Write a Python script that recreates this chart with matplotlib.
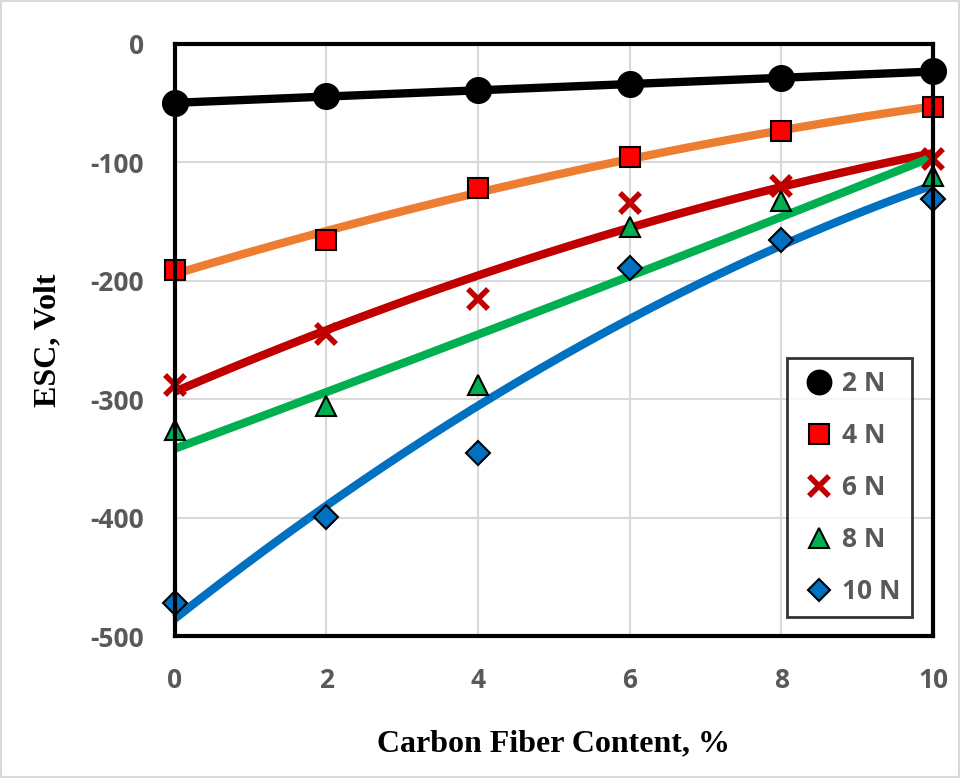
import numpy as np
import matplotlib.pyplot as plt

plt.rcParams['axes.unicode_minus'] = False

# carbon fiber content, %
fiber = [0, 2, 4, 6, 8, 10]

# ESC values (Volt) for each load
esc_2n = [-50, -44, -39, -34, -29, -23]
esc_4n = [-191, -165.5, -122, -95.4, -73.5, -53.2]
esc_6n = [-288, -245, -215, -134, -120, -97]
esc_8n = [-326, -306, -288, -154.5, -132.6, -111.5]
esc_10n = [-472, -399.5, -345.5, -189, -165.5, -131]

labels = ['2 N', '4 N', '6 N', '8 N', '10 N']

tick_gray = '#595959'

fig = plt.figure(figsize=(9.6, 7.78), dpi=100)
ax = fig.add_axes([0.182, 0.1825, 0.790, 0.761])

series = [esc_2n, esc_4n, esc_6n, esc_8n, esc_10n]
# (line colour, marker, marker face, marker edge, marker size)
styles = [
    ('black', 'o', 'black', 'black', 18),
    ('#ED7D31', 's', '#FF0000', 'black', 15),
    ('#C00000', 'x', '#C00000', '#C00000', 15),
    ('#00B050', '^', '#00B050', 'black', 15),
    ('#0070C0', 'D', '#0070C0', 'black', 12),
]

xs = np.linspace(0, 10, 200)
handles = []
for y, lab, (lc, mk, mf, me, ms) in zip(series, labels, styles):
    # 2nd order polynomial trendline like the excel chart
    coef = np.polyfit(fiber, y, 2)
    ax.plot(xs, np.polyval(coef, xs), color=lc, lw=6, zorder=3,
            solid_capstyle='butt', clip_on=False)
    if mk == 'x':
        h, = ax.plot(fiber, y, ls='none', marker=mk, ms=ms, mec=me, mew=4,
                     zorder=4, clip_on=False, label=lab)
    else:
        h, = ax.plot(fiber, y, ls='none', marker=mk, ms=ms, mfc=mf, mec=me,
                     mew=1.5, zorder=4, clip_on=False, label=lab)
    handles.append(h)

ax.set_xlim(0, 10)
ax.set_ylim(-500, 0)
ax.set_xticks(fiber)
ax.set_yticks([0, -100, -200, -300, -400, -500])
ax.grid(True, color='#D9D9D9', lw=1.5)
ax.set_axisbelow(True)
for sp in ax.spines.values():
    sp.set_linewidth(3)
    sp.set_color('black')
    sp.set_zorder(5)

ax.tick_params(axis='x', length=0, pad=22, labelsize=19, labelcolor=tick_gray)
ax.tick_params(axis='y', length=0, pad=22, labelsize=19, labelcolor=tick_gray)
for t in ax.get_xticklabels() + ax.get_yticklabels():
    t.set_fontweight('bold')
    t.set_family('Open Sans')

ax.set_xlabel('Carbon Fiber Content, %', fontsize=23, fontweight='bold',
              family='Liberation Serif', labelpad=26)
ax.set_ylabel('ESC, Volt', fontsize=23, fontweight='bold',
              family='Liberation Serif', labelpad=20)

leg = ax.legend(handles=handles, loc='lower right', bbox_to_anchor=(0.972, 0.032),
                borderaxespad=0, frameon=True, fancybox=False, edgecolor='black',
                handlelength=1.5, handletextpad=0.1, labelspacing=0.95,
                borderpad=0.45, markerscale=0.95,
                prop={'family': 'Open Sans', 'weight': 'bold', 'size': 19})
leg.get_frame().set_linewidth(2)
for t in leg.get_texts():
    t.set_color(tick_gray)
leg.set_zorder(6)

# light border round the whole figure
fig.patches.append(plt.Rectangle((0.001, 0.001), 0.998, 0.998, transform=fig.transFigure,
                                 fill=False, edgecolor='#D9D9D9', lw=1.5))

fig.savefig('out.png', dpi=100)
